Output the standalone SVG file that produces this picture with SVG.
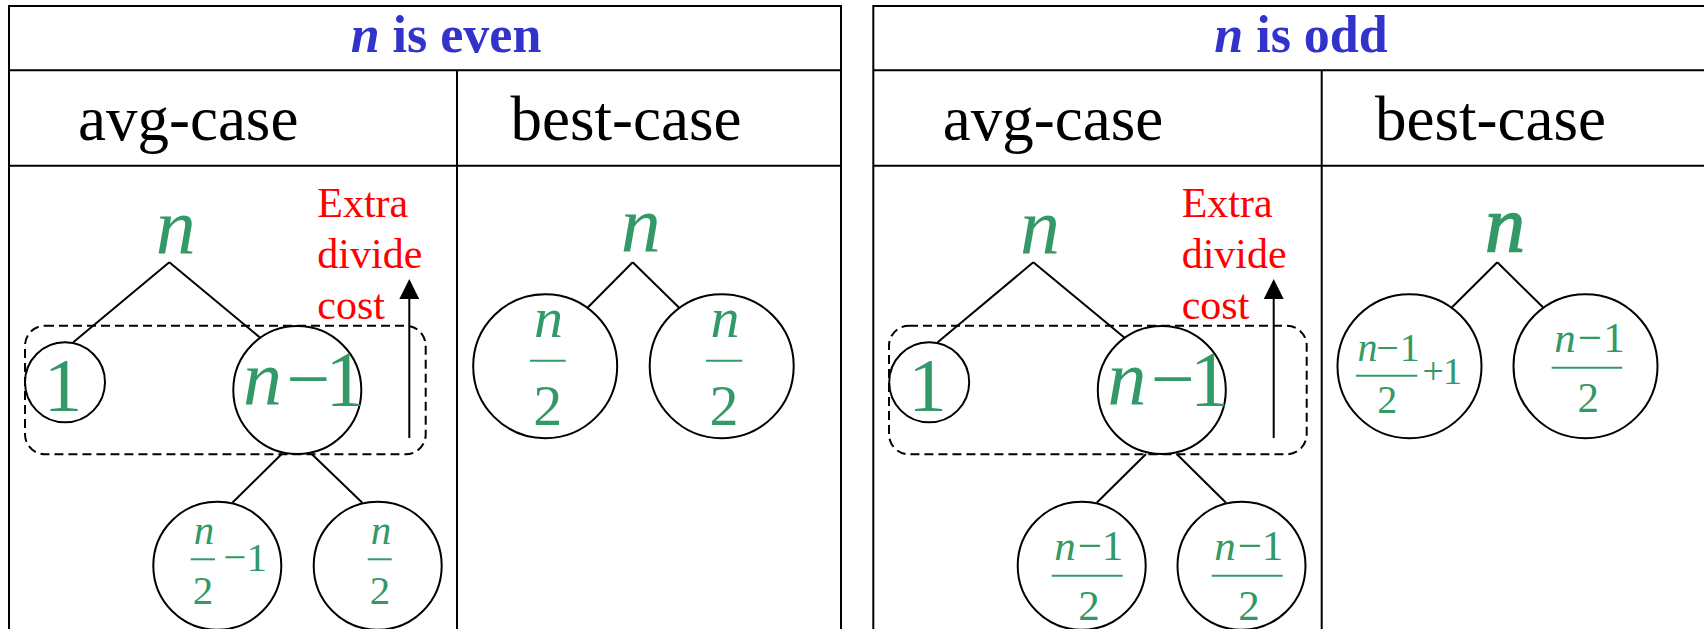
<svg xmlns="http://www.w3.org/2000/svg" width="1704" height="629" viewBox="0 0 1704 629">
<style>
.tbl{fill:none;stroke:#000;stroke-width:2}
.edge{stroke:#000;stroke-width:2;fill:none}
.node{fill:#fff;stroke:#000;stroke-width:2}
.dash{fill:none;stroke:#000;stroke-width:2;stroke-dasharray:9 5}
.m{font-family:"Liberation Serif","Times New Roman",serif;fill:#339966;text-anchor:middle}
.i{font-style:italic}
.bar{stroke:#339966;stroke-width:2}
.hdr{font-family:"Liberation Serif","Times New Roman",serif;font-size:63px;fill:#000}
.ttl{font-family:"Liberation Serif","Times New Roman",serif;font-size:52px;font-weight:bold;fill:#3333CC;text-anchor:middle}
.red{font-family:"Liberation Serif","Times New Roman",serif;font-size:42px;fill:#FF0000}
</style>
<defs>
<marker id="ah" markerWidth="20" markerHeight="20" refX="0" refY="10" orient="auto" markerUnits="userSpaceOnUse">
<path d="M0,0 L20,10 L0,20 Z" fill="#000"/>
</marker>
</defs>
<rect width="1704" height="629" fill="#fff"/>
<g id="tables">
<path class="tbl" d="M9,640 V6 H841 V640 M9,70.3 H841 M9,165.7 H841 M457,70.3 V640"/>
<path class="tbl" d="M873.3,640 V6 H1720 M873.3,70.3 H1720 M873.3,165.7 H1720 M1321.7,70.3 V640"/>
<text class="ttl" x="446" y="52"><tspan font-style="italic">n</tspan> is even</text>
<text class="ttl" x="1301" y="52"><tspan font-style="italic">n</tspan> is odd</text>
<text class="hdr" x="78" y="140">avg-case</text>
<text class="hdr" x="510.5" y="140">best-case</text>
<text class="hdr" x="942.8" y="140">avg-case</text>
<text class="hdr" x="1375" y="140">best-case</text>
</g>
<g id="connectors">
<line class="edge" x1="169.3" y1="262.3" x2="73.3" y2="342.3"/>
<line class="edge" x1="169.3" y1="262.3" x2="265.7" y2="342.3"/>
<line class="edge" x1="281.7" y1="454" x2="232.3" y2="502.7"/>
<line class="edge" x1="311.7" y1="454" x2="362.3" y2="502.7"/>
<line class="edge" x1="632.7" y1="262.3" x2="586" y2="309.3"/>
<line class="edge" x1="632.7" y1="262.3" x2="680.7" y2="309.3"/>
<line class="edge" x1="1033.3" y1="262.3" x2="937.7" y2="342.3"/>
<line class="edge" x1="1033.3" y1="262.3" x2="1130" y2="342.3"/>
<line class="edge" x1="1146" y1="454" x2="1096.7" y2="502.7"/>
<line class="edge" x1="1176.7" y1="454" x2="1226" y2="502.7"/>
<line class="edge" x1="1497.3" y1="262.3" x2="1450" y2="309.3"/>
<line class="edge" x1="1497.3" y1="262.3" x2="1545" y2="309.3"/>
<line class="edge" x1="409.3" y1="438" x2="409.3" y2="299" marker-end="url(#ah)"/>
<line class="edge" x1="1273.7" y1="438" x2="1273.7" y2="299" marker-end="url(#ah)"/>
</g>
<g id="group-even">
<rect class="dash" x="25" y="325.7" width="400.7" height="128.6" rx="20" ry="20"/>
</g>
<g id="group-odd">
<rect class="dash" x="889" y="325.7" width="417.7" height="128.6" rx="20" ry="20"/>
</g>
<g id="label-even">
<text class="red" x="317.3" y="216.7">Extra</text>
<text class="red" x="317.3" y="268.3">divide</text>
<text class="red" x="317.3" y="319">cost</text>
</g>
<g id="label-odd">
<text class="red" x="1181.7" y="216.7">Extra</text>
<text class="red" x="1181.7" y="268.3">divide</text>
<text class="red" x="1181.7" y="319">cost</text>
</g>
<g id="even-avg-root"><text class="m i" x="175.7" y="253" font-size="80">n</text></g>
<g id="even-avg-1">
<circle class="node" cx="65" cy="382.3" r="40"/>
<text class="m" x="63" y="410.7" font-size="77">1</text>
</g>
<g id="even-avg-nm1">
<circle class="node" cx="297.3" cy="390" r="64"/>
<text class="m" y="405" font-size="78"><tspan class="i" x="262.5">n</tspan><tspan x="308.3">−</tspan><tspan x="345">1</tspan></text>
</g>
<g id="even-avg-l">
<circle class="node" cx="217.3" cy="565.7" r="64"/>
<text class="m i" x="204" y="544" font-size="41">n</text>
<line class="bar" x1="190.7" y1="559.3" x2="215" y2="559.3"/>
<text class="m" x="203" y="604.3" font-size="41">2</text>
<text class="m" y="571" font-size="41"><tspan x="234.7">−</tspan><tspan x="256.7">1</tspan></text>
</g>
<g id="even-avg-r">
<circle class="node" cx="377.7" cy="565.7" r="64"/>
<text class="m i" x="381" y="544" font-size="41">n</text>
<line class="bar" x1="367.7" y1="559.3" x2="391.7" y2="559.3"/>
<text class="m" x="380" y="604.3" font-size="41">2</text>
</g>
<g id="even-best-root"><text class="m i" x="640.7" y="251" font-size="80">n</text></g>
<g id="even-best-l">
<circle class="node" cx="545.2" cy="366.2" r="72"/>
<text class="m i" x="548.5" y="336.7" font-size="58">n</text>
<line class="bar" x1="530" y1="360.7" x2="565.7" y2="360.7"/>
<text class="m" x="547.8" y="425" font-size="58">2</text>
</g>
<g id="even-best-r">
<circle class="node" cx="721.7" cy="366.2" r="72"/>
<text class="m i" x="725" y="336.7" font-size="58">n</text>
<line class="bar" x1="706" y1="360.7" x2="742.3" y2="360.7"/>
<text class="m" x="724" y="425" font-size="58">2</text>
</g>
<g id="odd-avg-root"><text class="m i" x="1040" y="253" font-size="80">n</text></g>
<g id="odd-avg-1">
<circle class="node" cx="929.2" cy="382.3" r="40"/>
<text class="m" x="927.5" y="410.7" font-size="77">1</text>
</g>
<g id="odd-avg-nm1">
<circle class="node" cx="1161.8" cy="390" r="64"/>
<text class="m" y="405" font-size="78"><tspan class="i" x="1127">n</tspan><tspan x="1172.8">−</tspan><tspan x="1209.5">1</tspan></text>
</g>
<g id="odd-avg-l">
<circle class="node" cx="1081.7" cy="565.7" r="64"/>
<text class="m" y="560" font-size="43"><tspan class="i" x="1065">n</tspan><tspan x="1090">−</tspan><tspan x="1112.5">1</tspan></text>
<line class="bar" x1="1051.7" y1="575.7" x2="1122.7" y2="575.7"/>
<text class="m" x="1089" y="620" font-size="43">2</text>
</g>
<g id="odd-avg-r">
<circle class="node" cx="1241.5" cy="565.7" r="64"/>
<text class="m" y="560" font-size="43"><tspan class="i" x="1225">n</tspan><tspan x="1250">−</tspan><tspan x="1272.5">1</tspan></text>
<line class="bar" x1="1211.7" y1="575.7" x2="1282.7" y2="575.7"/>
<text class="m" x="1249" y="620" font-size="43">2</text>
</g>
<g id="odd-best-root"><text class="m i" x="1505" y="251" font-size="80" stroke="#339966" stroke-width="1.5">n</text></g>
<g id="odd-best-l">
<circle class="node" cx="1409.5" cy="366.2" r="72"/>
<text class="m" y="360.7" font-size="40"><tspan class="i" x="1367.5">n</tspan><tspan x="1387.5">−</tspan><tspan x="1409.7">1</tspan></text>
<line class="bar" x1="1356" y1="375.7" x2="1417.3" y2="375.7"/>
<text class="m" x="1387.2" y="412.7" font-size="40">2</text>
<text class="m" y="384.3" font-size="38"><tspan x="1433.3">+</tspan><tspan x="1452.5">1</tspan></text>
</g>
<g id="odd-best-r">
<circle class="node" cx="1585.5" cy="366.2" r="72"/>
<text class="m" y="352.3" font-size="43"><tspan class="i" x="1565">n</tspan><tspan x="1590">−</tspan><tspan x="1614">1</tspan></text>
<line class="bar" x1="1551.7" y1="367.7" x2="1622.3" y2="367.7"/>
<text class="m" x="1588.3" y="411.7" font-size="43">2</text>
</g>
</svg>
